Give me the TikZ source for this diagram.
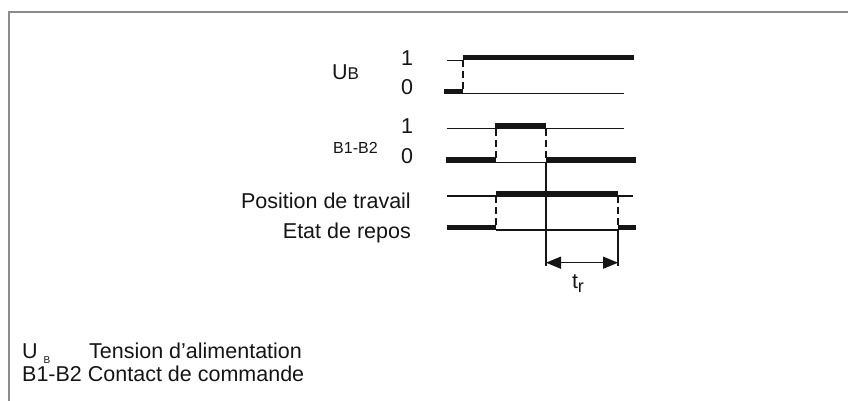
\documentclass[tikz,border=0pt]{standalone}
\usepackage{fontspec}
\setmainfont{Liberation Sans}
\usetikzlibrary{arrows.meta}
\definecolor{ink}{HTML}{151515}
\definecolor{framec}{HTML}{8C8C8C}
\begin{document}
\begin{tikzpicture}[x=1pt,y=-1pt,
  thinln/.style={line width=1.4pt, draw=ink},
  thickln/.style={line width=5.5pt, draw=ink},
  dashln/.style={line width=1.4pt, draw=ink, dash pattern=on 7pt off 4pt},
  lbl/.style={inner sep=0pt, text=ink, font=\fontsize{21.5}{25}\selectfont},
  smalllbl/.style={inner sep=0pt, text=ink, font=\fontsize{16}{19}\selectfont},
  framel/.style={line width=2pt, draw=framec},
  dim/.style={thinln, {Triangle[length=15pt,width=12pt]}-{Triangle[length=15pt,width=12pt]}}
]
\useasboundingbox (0,0) rectangle (848,401);
% frame
\draw[framel] (8.5,401) -- (8.5,12) -- (848,12);

% U_B signal
\draw[thinln] (447,60.5) -- (463,60.5);
\draw[thickln] (463,57.5) -- (634,57.5);
\draw[thinln] (463,93.5) -- (624,93.5);
\draw[thickln] (444,91.5) -- (463,91.5);
\draw[dashln] (463,60.5) -- (463,93.5);

% B1-B2 signal
\draw[thinln] (447,128.5) -- (624,128.5);
\draw[thickln] (495,125.5) -- (546,125.5);
\draw[thinln] (496,162.5) -- (624,162.5);
\draw[thickln] (446,160) -- (496,160);
\draw[thickln] (546,160) -- (636,160);
\draw[dashln] (496,128.5) -- (496,162.5);
\draw[dashln] (546,128.5) -- (546,162.5);

% relay output
\draw[thinln] (447,196) -- (633,196);
\draw[thickln] (496,193.5) -- (618,193.5);
\draw[thinln] (496,230) -- (618,230);
\draw[thickln] (447,227.5) -- (496,227.5);
\draw[thickln] (618,227.5) -- (636,227.5);
\draw[dashln] (496,196) -- (496,230);
\draw[dashln] (618,196) -- (618,230);

% time reference lines
\draw[thinln] (546,162.5) -- (546,266);
\draw[thinln] (618,230) -- (618,266);
\coordinate (al) at (546,262.7);
\coordinate (ar) at (618,262.7);
\draw[dim] (al) -- (ar);

% labels
\node[lbl, anchor=base west] (ub) at (332,80) {U{\fontsize{17}{17}\selectfont B}};
\node[lbl, anchor=base] (u1) at (407,66) {1};
\node[lbl, anchor=base] (u0) at (407,95) {0};
\node[smalllbl, anchor=base west] (bb) at (333,153.3) {B1-B2};
\node[lbl, anchor=base] (b1) at (407,133.5) {1};
\node[lbl, anchor=base] (b0) at (407,163) {0};
\node[lbl, anchor=base east] (pos) at (411,208) {Position de travail};
\node[lbl, anchor=base east] (etat) at (411,238) {Etat de repos};
\node[lbl, anchor=base] (tr) at (578,288) {t\raisebox{-4pt}{\fontsize{18}{18}\selectfont r}};

% legend
\node[lbl, anchor=base west] (lu) at (22,358) {U\hspace{6pt}\raisebox{-5pt}{\fontsize{10}{10}\selectfont B}};
\node[lbl, anchor=base west] (lt) at (89,358) {Tension d’alimentation};
\node[lbl, anchor=base west] (lb) at (22,381) {B1-B2 Contact de commande};
\end{tikzpicture}
\end{document}
